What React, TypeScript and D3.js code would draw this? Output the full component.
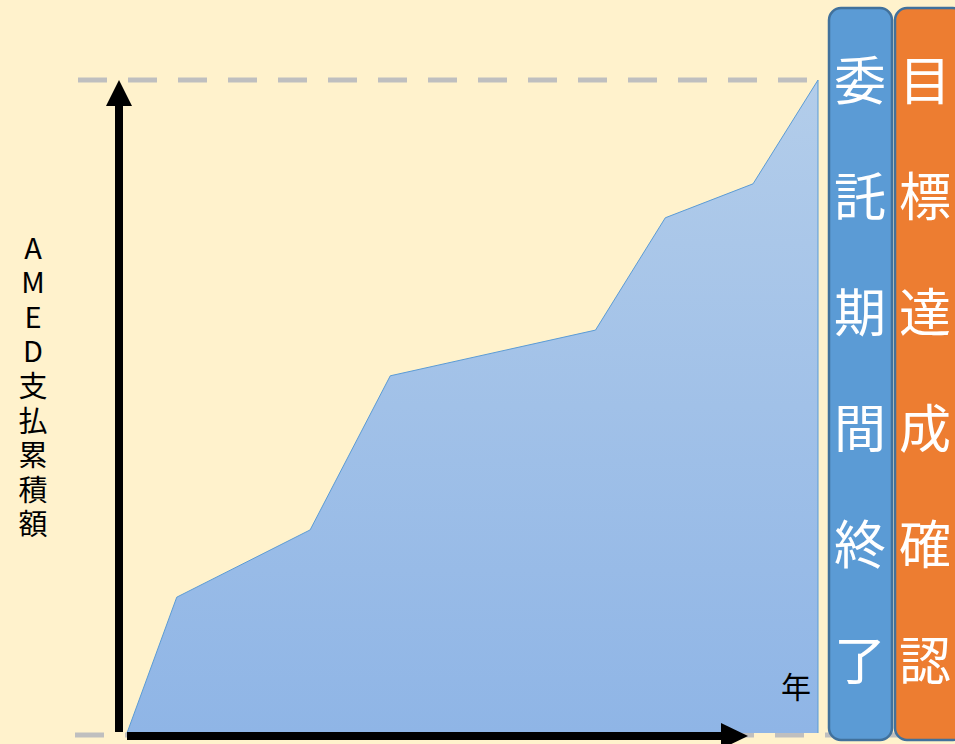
import React from "react";
import * as d3 from "d3";

const years = [0, 0.72, 2.65, 3.81, 6.78, 7.79, 9.06, 10];
const cumulative = [0, 20.8, 31.1, 54.7, 61.7, 78.9, 84.1, 100];
const yLabel = "AMED支払累積額";
const xLabel = "年";
const bar1Text = "委託期間終了";
const bar2Text = "目標達成確認";

const W = 955;
const H = 744;

export default function App() {
  const x = d3.scaleLinear().domain([0, 10]).range([127, 818]);
  const y = d3.scaleLinear().domain([0, 100]).range([733, 80]);
  const data = years.map((v, i) => ({ x: v, y: cumulative[i] }));
  const area = d3
    .area<{ x: number; y: number }>()
    .x((d) => x(d.x))
    .y0(y(0))
    .y1((d) => y(d.y));
  const line = d3
    .line<{ x: number; y: number }>()
    .x((d) => x(d.x))
    .y((d) => y(d.y));

  const axisX = 118;
  const cjk = "'Noto Sans CJK JP', 'Noto Sans', sans-serif";
  const vertical: React.CSSProperties = {
    writingMode: "vertical-rl",
    textOrientation: "upright",
  } as React.CSSProperties;

  return (
    <svg
      width={W}
      height={H}
      style={{ position: "fixed", top: 0, left: 0 }}
      fontFamily={cjk}
    >
      <defs>
        <linearGradient id="ag" x1="0" y1="0" x2="0" y2="1">
          <stop offset="0%" stopColor="#B3CDEA" />
          <stop offset="100%" stopColor="#8FB5E6" />
        </linearGradient>
      </defs>
      <rect x={0} y={0} width={W} height={H} fill="#FFF2CC" />

      {/* dashed reference lines */}
      <line x1={78} x2={818} y1={y(100)} y2={y(100)} stroke="#BFBFBF" strokeWidth={5} strokeDasharray="29 21" />
      <line x1={75} x2={955} y1={735} y2={735} stroke="#BFBFBF" strokeWidth={5} strokeDasharray="29 21" />

      {/* area */}
      <path d={area(data) ?? ""} fill="url(#ag)" />
      <path d={line(data) ?? ""} fill="none" stroke="#5B9BD5" strokeWidth={1} />
      <line x1={x(10)} x2={x(10)} y1={y(100)} y2={y(0)} stroke="#5B9BD5" strokeWidth={1} />

      {/* y axis arrow */}
      <line x1={axisX + 1} x2={axisX + 1} y1={732} y2={100} stroke="#000" strokeWidth={8} />
      <path d={`M${axisX + 1},80 L${axisX + 14},106 L${axisX - 12},106 Z`} fill="#000" />

      {/* x axis arrow */}
      <line x1={127} x2={725} y1={736} y2={736} stroke="#000" strokeWidth={8} />
      <path d={`M748,736 L721,723 L721,749 Z`} fill="#000" />

      {/* y label vertical, one text element */}
      <text x={33} y={233} fill="#000" fontSize={29} letterSpacing={5.6} style={vertical}>
        {yLabel}
      </text>

      <text x={796} y={698} fontSize={30} textAnchor="middle" fill="#000">{xLabel}</text>

      {/* right boxes */}
      <rect x={829} y={8} width={63} height={732} rx={12} fill="#5B9BD5" stroke="#41719C" strokeWidth={2.5} />
      <rect x={895} y={8} width={70} height={732} rx={12} fill="#ED7D31" stroke="#41719C" strokeWidth={2.5} />
      <g fontSize={52} fill="#fff" textAnchor="middle">
        {Array.from(bar1Text).map((c, i) => (
          <text key={i} x={860} y={100 + i * 116}>{c}</text>
        ))}
        {Array.from(bar2Text).map((c, i) => (
          <text key={"b" + i} x={925} y={100 + i * 116}>{c}</text>
        ))}
      </g>
    </svg>
  );
}
